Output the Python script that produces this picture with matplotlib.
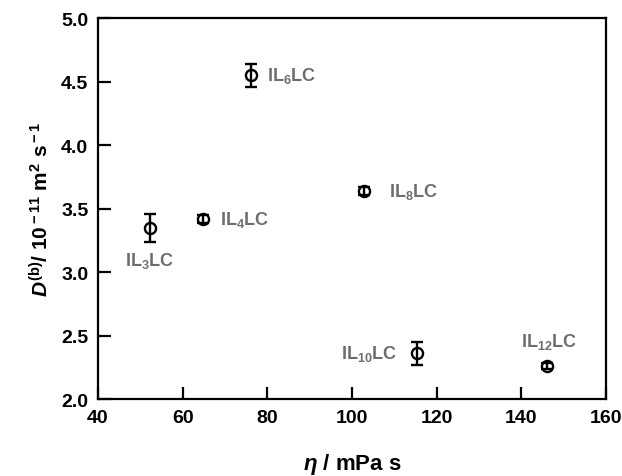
import matplotlib
matplotlib.use('Agg')
import matplotlib.pyplot as plt

# viscosity (mPa s), diffusion coefficient (1e-11 m2/s) and its error
names = ['IL$_3$LC', 'IL$_4$LC', 'IL$_6$LC', 'IL$_8$LC', 'IL$_{10}$LC', 'IL$_{12}$LC']
eta = [52.3, 64.8, 76.1, 102.8, 115.3, 146.0]
diff = [3.35, 3.42, 4.55, 3.64, 2.36, 2.26]
diff_err = [0.11, 0.03, 0.09, 0.03, 0.09, 0.02]
x_ticks = [40, 60, 80, 100, 120, 140, 160]
y_ticks = [2.0, 2.5, 3.0, 3.5, 4.0, 4.5, 5.0]

# label offsets in points and alignment
label_pos = [((0, -23), 'center', 'center'),
             ((12, 0), 'left', 'center'),
             ((12, 0), 'left', 'center'),
             ((18, 0), 'left', 'center'),
             ((-14, 0), 'right', 'center'),
             ((2, 18), 'center', 'center')]

plt.rcParams['font.family'] = 'Liberation Sans'
plt.rcParams['font.weight'] = 'bold'
plt.rcParams['mathtext.fontset'] = 'custom'
plt.rcParams['mathtext.rm'] = 'Liberation Sans:bold'
plt.rcParams['mathtext.it'] = 'Liberation Sans:bold:italic'
plt.rcParams['mathtext.bf'] = 'Liberation Sans:bold'

fig = plt.figure(figsize=(6.22, 4.77), dpi=100)
ax = fig.add_axes([0.1576, 0.1614, 0.974 - 0.1576, 0.960 - 0.1614])

ax.errorbar(eta, diff, yerr=diff_err, fmt='o', mfc='none', mec='black', ms=8, mew=1.7,
            ecolor='black', elinewidth=1.7, capsize=4, capthick=1.7)

for name, x, y, (off, ha, va) in zip(names, eta, diff, label_pos):
    ax.annotate(name, (x, y), xytext=off, textcoords='offset points', ha=ha, va=va,
                color='#6e6e6e', fontsize=13, fontweight='bold')

ax.set_xlim(40, 160)
ax.set_ylim(2.0, 5.0)
ax.set_xticks(x_ticks)
ax.set_yticks(y_ticks)
ax.set_xticklabels([str(t) for t in x_ticks])
ax.set_yticklabels([f'{t:.1f}' for t in y_ticks])
ax.tick_params(direction='in', length=9, width=1.6, labelsize=14, pad=7)
for s in ax.spines.values():
    s.set_linewidth(1.6)

ax.set_xlabel(r'$\eta$ / mPa s', fontsize=16, fontweight='bold', labelpad=18)
ax.set_ylabel(r'$D^{\rm (b)}$/ 10$^{\rm -11}$ m$^{\rm 2}$ s$^{\rm -1}$', fontsize=15,
              fontweight='bold', labelpad=6)

fig.savefig('out.png', dpi=100)
